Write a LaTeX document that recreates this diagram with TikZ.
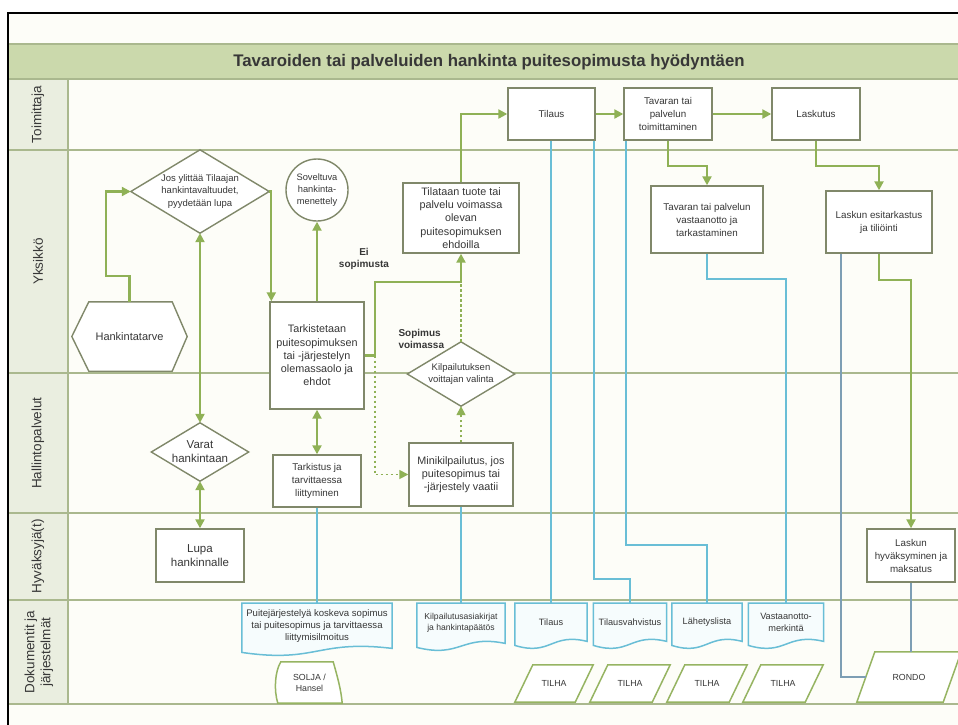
\documentclass[tikz,border=0pt]{standalone}
\usepackage{fontspec}
\setmainfont{Liberation Sans}
\usetikzlibrary{arrows.meta,calc,backgrounds}

\definecolor{paper}{RGB}{253,253,248}
\definecolor{bandfill}{RGB}{203,217,172}
\definecolor{labfill}{RGB}{234,238,224}
\definecolor{laneline}{RGB}{170,184,142}
\definecolor{boxline}{RGB}{128,136,106}
\definecolor{flow}{RGB}{143,177,86}
\definecolor{docline}{RGB}{105,190,214}
\definecolor{sysline}{RGB}{125,158,180}
\definecolor{store}{RGB}{150,180,98}
\definecolor{docfill}{RGB}{246,252,253}
\definecolor{ink}{RGB}{55,55,55}

\newcommand{\setfs}[2]{\fontsize{#1}{#2}\selectfont}

\tikzset{flowtip/.tip={Triangle[length=9pt,width=9pt]}}

\begin{document}
\begin{tikzpicture}[x=1pt,y=-1pt,
  every node/.style={text=ink},
  wh/.style 2 args={minimum width=#1pt, minimum height=#2pt},
  proc/.style={draw=boxline, line width=1.4pt, fill=white, align=center, inner sep=1pt, font=\setfs{9.8}{13}},
  bigtxt/.style={font=\setfs{10.8}{13.3}},
  shapetext/.style={align=center, inner sep=0pt, font=\setfs{9.5}{12.5}},
  doc/.style={anchor=north, align=center, inner sep=1pt, font=\setfs{9.2}{12}},
  sys/.style={align=center, inner sep=0pt, font=\setfs{8.8}{11}},
  lanetext/.style={rotate=90, align=center, font=\setfs{13.5}{16}},
  flowline/.style={draw=flow, line width=2.2pt},
  arrowed/.style={-flowtip},
  twoway/.style={flowtip-flowtip},
  dotflow/.style={draw=flow, line width=1.6pt, dash pattern=on 2.5pt off 2.5pt},
  docwire/.style={draw=docline, line width=1.7pt},
  syswire/.style={draw=sysline, line width=1.7pt},
  outline/.style={draw=boxline, line width=1.4pt, fill=white},
  docedge/.style={draw=docline, line width=1.5pt, fill=docfill},
  storeedge/.style={draw=store, line width=1.5pt, fill=white},
  laneedge/.style={draw=laneline, line width=1.2pt},
  note/.style={font=\bfseries\setfs{10}{12.5}, align=center}]

\useasboundingbox (0,0) rectangle (958,724);

% sheet, title band and swimlanes
\begin{scope}[on background layer]
  \fill[white] (0,0) rectangle (958,724);
  \fill[paper] (8,13) rectangle (970,740);
  \fill[bandfill] (8,44) rectangle (970,79);
  \fill[labfill] (8,79) rectangle (68,704);
  \foreach \y in {44,79,150,373,513,600,704} \draw[laneedge] (8,\y) -- (970,\y);
  \draw[laneedge] (68,79) -- (68,704);
\end{scope}
\draw[black, line width=2pt] (8,740) -- (8,13) -- (970,13);

\node[font=\bfseries\setfs{16.8}{19}] (title) at (489,62) {Tavaroiden tai palveluiden hankinta puitesopimusta hyödyntäen};

% lane names
\node[lanetext] (lnToim) at (38,114.5) {Toimittaja};
\node[lanetext] (lnYks) at (38,261.5) {Yksikkö};
\node[lanetext] (lnHall) at (38,443) {Hallintopalvelut};
\node[lanetext] (lnHyv) at (38,556.5) {Hyväksyjä(t)};
\node[lanetext] (lnDok) at (39,652) {Dokumentit ja\\järjestelmät};

% process steps
\node[proc, wh={87}{52}] (tilaus) at (551.5,114) {Tilaus};
\node[proc, wh={88}{52}] (toim) at (668,114) {Tavaran tai\\palvelun\\toimittaminen};
\node[proc, wh={88}{52}] (lask) at (816,114) {Laskutus};
\node[proc, bigtxt, wh={116}{70}] (tilat) at (461,218) {Tilataan tuote tai\\palvelu voimassa\\olevan\\puitesopimuksen\\ehdoilla};
\node[proc, wh={112}{67}] (vast) at (707,219.5) {Tavaran tai palvelun\\vastaanotto ja\\tarkastaminen};
\node[proc, wh={106}{62}] (esit) at (879,222) {Laskun esitarkastus\\ja tiliöinti};
\node[proc, bigtxt, wh={94}{107}] (tark) at (317,355.5) {Tarkistetaan\\puitesopimuksen\\tai -järjestelyn\\olemassaolo ja\\ehdot};
\node[circle, draw=boxline, line width=1.4pt, fill=white, minimum size=62pt, inner sep=0pt, align=center, font=\setfs{9.3}{12}] (circ) at (317,190) {Soveltuva\\hankinta-\\menettely};
\node[shapetext, wh={138}{83}] (d1) at (200,191.5) {Jos ylittää Tilaajan\\hankintavaltuudet,\\pyydetään lupa};
\node[shapetext, font=\setfs{11}{13}, wh={115}{69}] (hank) at (129.5,336.5) {Hankintatarve};
\node[shapetext, wh={107}{64}] (kilp) at (461,374) {Kilpailutuksen\\voittajan valinta};
\node[proc, bigtxt, wh={104}{63}] (mini) at (461,474.5) {Minikilpailutus, jos\\puitesopimus tai\\-järjestely vaatii};
\node[shapetext, font=\setfs{11.5}{14}, wh={97}{58}] (varat) at (200,452) {Varat\\hankintaan};
\node[proc, wh={88}{52}] (tarkistus) at (317,481) {Tarkistus ja\\tarvittaessa\\liittyminen};
\node[proc, font=\setfs{11.5}{14}, wh={88}{53}] (lupa) at (200,555.5) {Lupa\\hankinnalle};
\node[proc, wh={88}{53}] (hyv) at (911,555.5) {Laskun\\hyväksyminen ja\\maksatus};

% documents
\node[doc, font=\setfs{9.6}{12}, wh={150}{45}] (pdoc) at (317,603) {Puitejärjestelyä koskeva sopimus\\tai puitesopimus ja tarvittaessa\\liittymisilmoitus};
\node[doc, font=\setfs{8.6}{11}, wh={88}{40}] (kdoc) at (461,603) {Kilpailutusasiakirjat\\ja hankintapäätös};
\node[doc, wh={72}{38}] (tdoc) at (551,603) {Tilaus};
\node[doc, wh={73}{38}] (tvdoc) at (630,603) {Tilausvahvistus};
\node[doc, wh={70}{38}] (lldoc) at (707,603) {Lähetyslista};
\node[doc, wh={75}{38}] (vmdoc) at (786,603) {Vastaanotto-\\merkintä};

% systems
\node[sys, wh={60}{41}] (solja) at (309.5,682.5) {SOLJA /\\Hansel};
\node[sys, wh={60}{37}] (tilha1) at (554,683.5) {TILHA};
\node[sys, wh={62}{37}] (tilha2) at (630,683.5) {TILHA};
\node[sys, wh={62}{37}] (tilha3) at (707,683.5) {TILHA};
\node[sys, wh={62}{37}] (tilha4) at (783,683.5) {TILHA};
\node[sys, wh={86}{50}] (rondo) at (909,677) {RONDO};

% outlines drawn under the texts
\begin{scope}[on background layer]
  \foreach \n in {d1,kilp,varat}
    \draw[outline] (\n.north) -- (\n.east) -- (\n.south) -- (\n.west) -- cycle;
  \draw[outline] ([xshift=17pt]hank.north west) -- ([xshift=-15pt]hank.north east) -- (hank.east)
    -- ([xshift=-15pt]hank.south east) -- ([xshift=17pt]hank.south west) -- (hank.west) -- cycle;
  \foreach \n in {pdoc,kdoc,tdoc,tvdoc,lldoc,vmdoc}
    \draw[docedge] (\n.north west) -- (\n.north east) -- (\n.south east)
      .. controls ($(\n.south)+(0,-9)$) and ($(\n.south)+(0,15)$) .. ($(\n.south west)+(0,4)$) -- cycle;
  \foreach \n in {tilha1,tilha2,tilha3,tilha4,rondo}
    \draw[storeedge] ([xshift=9pt]\n.north west) -- ([xshift=9pt]\n.north east)
      -- ([xshift=-9pt]\n.south east) -- ([xshift=-9pt]\n.south west) -- cycle;
  \draw[storeedge] ($(solja.north west)+(1.5,0)$) -- ($(solja.north east)+(-6.5,0)$)
    .. controls ($(solja.north east)+(-2.5,14)$) and ($(solja.south east)+(1.5,-13)$) .. ($(solja.south east)+(2.5,0)$)
    -- ($(solja.south west)+(-1.5,0)$)
    .. controls ($(solja.south west)+(-5.5,-13)$) and ($(solja.north west)+(-4.5,10)$) .. ($(solja.north west)+(1.5,0)$) -- cycle;
\end{scope}

% decision labels
\node[note] (eiSop) at (364,259) {Ei\\sopimusta};
\node[note, align=left, anchor=west] (sopVoim) at (395,339) {Sopimus\\voimassa};

% process flow
\draw[flowline, arrowed] (hank.north) -- ++(0,-26) -| ([xshift=-25pt]d1.west) -- (d1.west);
\draw[flowline, arrowed] (d1.east) -| ([xshift=2pt]tark.north west);
\draw[flowline, arrowed] (tark.north) -- (circ.south);
\draw[flowline, arrowed] (tark.east) -- ++(10,0) |- ([yshift=-28pt]tilat.south) -- (tilat.south);
\draw[dotflow, arrowed] ([xshift=10pt]tark.east) |- (mini.west);
\draw[dotflow, arrowed] (mini.north) -- (kilp.south);
\draw[dotflow] (kilp.north) -- ([yshift=-28pt]tilat.south);
\draw[flowline, arrowed] (tilat.north) |- (tilaus.west);
\draw[flowline, arrowed] (tilaus.east) -- (toim.west);
\draw[flowline, arrowed] (toim.east) -- (lask.west);
\draw[flowline, arrowed] (toim.south) -- ++(0,25) -| (vast.north);
\draw[flowline, arrowed] (lask.south) -- ++(0,25) -| (esit.north);
\draw[flowline, arrowed] (esit.south) -- ++(0,26) -| (hyv.north);
\draw[flowline, twoway] (d1.south) -- (varat.north);
\draw[flowline, twoway] (varat.south) -- (lupa.north);
\draw[flowline, twoway] (tark.south) -- (tarkistus.north);

% documents and systems links
\draw[docwire] (tarkistus.south) -- (pdoc.north);
\draw[docwire] (mini.south) -- (kdoc.north);
\draw[docwire] (tilaus.south -| tdoc.north) -- (tdoc.north);
\draw[docwire] ([xshift=-2pt]tilaus.south east) |- ([yshift=24pt]tvdoc.north) -- (tvdoc.north);
\draw[docwire] ([xshift=3pt]toim.south west) |- ([yshift=58pt]lldoc.north) -- (lldoc.north);
\draw[docwire] (vast.south) |- ([yshift=324pt]vmdoc.north) -- (vmdoc.north);
\draw[syswire] ([xshift=16pt]esit.south west) |- (rondo.west);
\draw[syswire] (hyv.south) -- (hyv.south |- rondo.north);
\end{tikzpicture}
\end{document}
